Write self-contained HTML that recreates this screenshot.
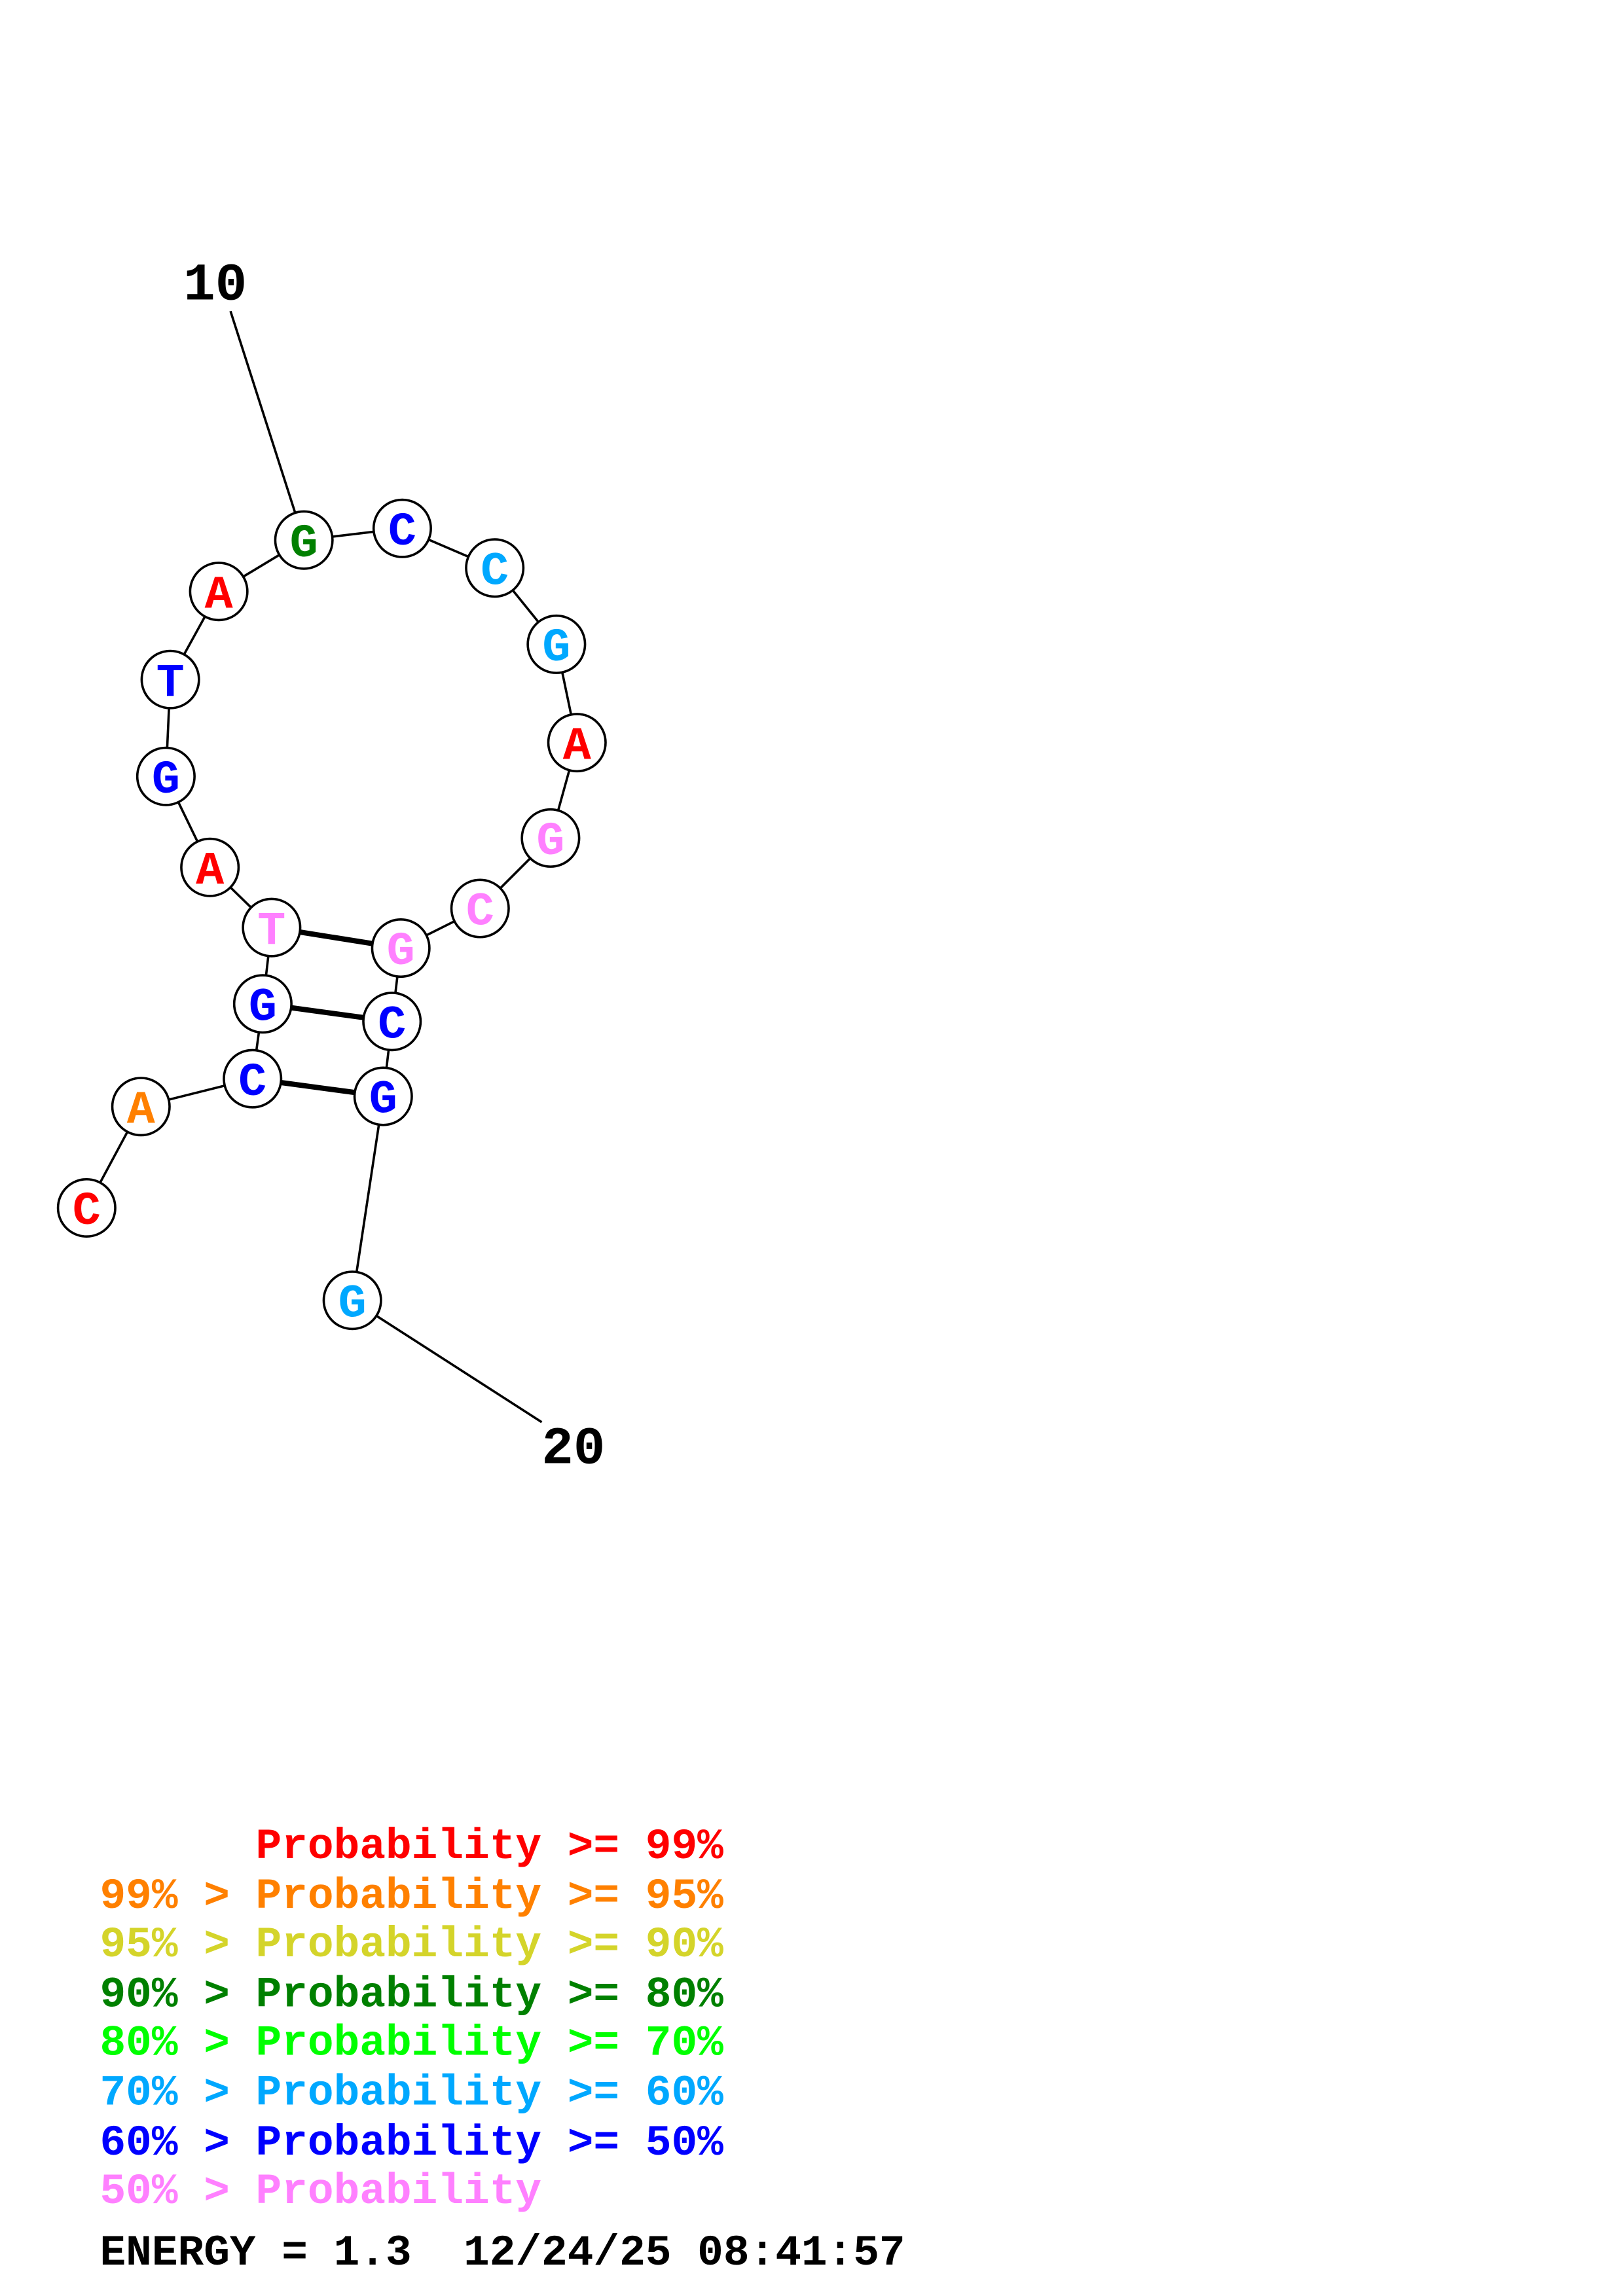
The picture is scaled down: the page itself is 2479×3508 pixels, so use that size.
<!DOCTYPE html>
<html><head><meta charset="utf-8"><style>html,body{margin:0;padding:0;background:#fff}svg{display:block}text{white-space:pre}</style></head>
<body>
<svg width="2479" height="3508" viewBox="0 0 1100 1556.6" xmlns="http://www.w3.org/2000/svg">
<g transform="scale(0.995)">
<g stroke="#000" stroke-width="1.6" fill="none">
<line x1="157" y1="212" x2="207" y2="368"/>
<line x1="240" y1="886" x2="369" y2="969"/>
<polyline points="59,823 96,754 172,735 179,684 185,632 143,591 113,529 116,463 149,403 207,368 274,360 337,387 379,439 393,506 375,571 327,619 273,646 267,696 261,747 240,886"/>
</g>
<g stroke="#000" stroke-width="3.6">
<line x1="185" y1="632" x2="273" y2="646"/>
<line x1="179" y1="684" x2="267" y2="696"/>
<line x1="172" y1="735" x2="261" y2="747"/>
</g>
<g stroke="#000" stroke-width="1.6" fill="#fff">
<circle cx="59" cy="823" r="19.5"/><circle cx="96" cy="754" r="19.5"/><circle cx="172" cy="735" r="19.5"/><circle cx="179" cy="684" r="19.5"/><circle cx="185" cy="632" r="19.5"/><circle cx="143" cy="591" r="19.5"/><circle cx="113" cy="529" r="19.5"/><circle cx="116" cy="463" r="19.5"/><circle cx="149" cy="403" r="19.5"/><circle cx="207" cy="368" r="19.5"/><circle cx="274" cy="360" r="19.5"/><circle cx="337" cy="387" r="19.5"/><circle cx="379" cy="439" r="19.5"/><circle cx="393" cy="506" r="19.5"/><circle cx="375" cy="571" r="19.5"/><circle cx="327" cy="619" r="19.5"/><circle cx="273" cy="646" r="19.5"/><circle cx="267" cy="696" r="19.5"/><circle cx="261" cy="747" r="19.5"/><circle cx="240" cy="886" r="19.5"/>
</g>
<g font-family="'Liberation Mono',monospace" font-weight="bold" font-size="32" text-anchor="middle">
<text x="59" y="834" fill="#f00">C</text>
<text x="96" y="765" fill="#ff8000">A</text>
<text x="172" y="746" fill="#00f">C</text>
<text x="179" y="695" fill="#00f">G</text>
<text x="185" y="643" fill="#ff80ff">T</text>
<text x="143" y="602" fill="#f00">A</text>
<text x="113" y="540" fill="#00f">G</text>
<text x="116" y="474" fill="#00f">T</text>
<text x="149" y="414" fill="#f00">A</text>
<text x="207" y="379" fill="#008000">G</text>
<text x="274" y="371" fill="#00f">C</text>
<text x="337" y="398" fill="#00a8ff">C</text>
<text x="379" y="450" fill="#00a8ff">G</text>
<text x="393" y="517" fill="#f00">A</text>
<text x="375" y="582" fill="#ff80ff">G</text>
<text x="327" y="630" fill="#ff80ff">C</text>
<text x="273" y="657" fill="#ff80ff">G</text>
<text x="267" y="707" fill="#00f">C</text>
<text x="261" y="758" fill="#00f">G</text>
<text x="240" y="897" fill="#00a8ff">G</text>
</g>
<g font-family="'Liberation Mono',monospace" font-weight="bold" font-size="36">
<text x="125" y="204" fill="#000">10</text>
<text x="369" y="997" fill="#000">20</text>
</g>
<g font-family="'Liberation Mono',monospace" font-weight="bold" font-size="29.5">
<text x="68" y="1266" fill="#f00">      Probability &gt;= 99%</text>
<text x="68" y="1300" fill="#ff8000">99% &gt; Probability &gt;= 95%</text>
<text x="68" y="1333" fill="#d4d42a">95% &gt; Probability &gt;= 90%</text>
<text x="68" y="1367" fill="#008000">90% &gt; Probability &gt;= 80%</text>
<text x="68" y="1400" fill="#00ff00">80% &gt; Probability &gt;= 70%</text>
<text x="68" y="1434" fill="#00a8ff">70% &gt; Probability &gt;= 60%</text>
<text x="68" y="1468" fill="#0000ff">60% &gt; Probability &gt;= 50%</text>
<text x="68" y="1501" fill="#ff80ff">50% &gt; Probability</text>
<text x="68" y="1543" fill="#000">ENERGY = 1.3  12/24/25 08:41:57</text>
</g>
</g>
</svg>
</body></html>
